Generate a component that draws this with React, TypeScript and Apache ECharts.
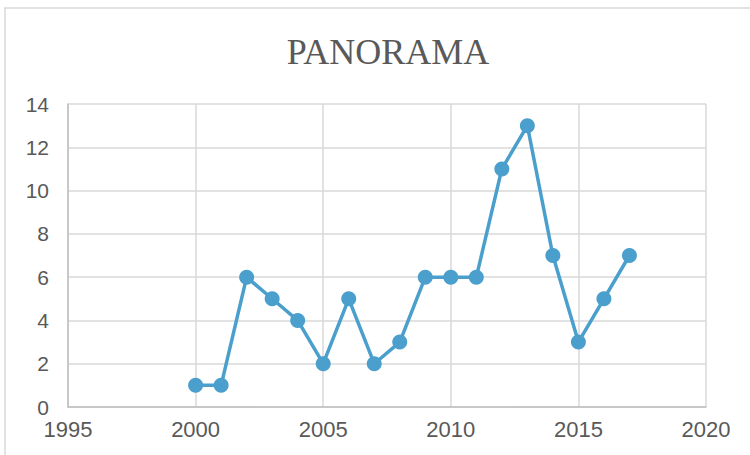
import React, { useEffect, useRef } from "react";
import * as echarts from "echarts";

const years = [2000, 2001, 2002, 2003, 2004, 2005, 2006, 2007, 2008, 2009, 2010, 2011, 2012, 2013, 2014, 2015, 2016, 2017];
const values = [1, 1, 6, 5, 4, 2, 5, 2, 3, 6, 6, 6, 11, 13, 7, 3, 5, 7];
const titleText = "PANORAMA";

export default function App() {
  const ref = useRef<HTMLDivElement>(null);
  useEffect(() => {
    if (!ref.current) return;
    const chart = echarts.init(ref.current, null, { renderer: "svg" });
    chart.setOption({
      animation: false,
      backgroundColor: "#ffffff",
      title: {
        text: titleText,
        left: 383,
        textAlign: "center",
        top: 29,
        textStyle: {
          fontFamily: "Liberation Serif",
          fontWeight: "normal",
          fontSize: 36,
          color: "#595959",
        },
      },
      graphic: [
        {
          type: "rect",
          shape: { x: 5, y: 8, width: 800, height: 500 },
          style: { fill: "none", stroke: "#d9d9d9", lineWidth: 1.5 },
          silent: true,
        },
      ],
      grid: { left: 68, right: 44, top: 104, bottom: 48 },
      xAxis: {
        type: "value",
        min: 1995,
        max: 2020,
        interval: 5,
        axisLine: { show: true, lineStyle: { color: "#bfbfbf", width: 1.5 } },
        axisTick: { show: false },
        axisLabel: {
          color: "#595959",
          fontFamily: "Liberation Sans",
          fontSize: 22,
          margin: 11,
          showMinLabel: true,
          showMaxLabel: true,
          formatter: (v: number) => String(v),
        },
        splitLine: { show: true, lineStyle: { color: "#d9d9d9", width: 1.5 } },
      },
      yAxis: {
        type: "value",
        min: 0,
        max: 14,
        interval: 2,
        axisLine: { show: true, lineStyle: { color: "#bfbfbf", width: 1.5 } },
        axisTick: { show: false },
        axisLabel: {
          color: "#595959",
          fontFamily: "Liberation Sans",
          fontSize: 21,
          margin: 19,
        },
        splitLine: { show: true, lineStyle: { color: "#d9d9d9", width: 1.5 } },
      },
      series: [
        {
          type: "line",
          data: years.map((y, i) => [y, values[i]]),
          symbol: "circle",
          symbolSize: 15,
          lineStyle: { color: "#4a9fcd", width: 3.5 },
          itemStyle: { color: "#4a9fcd" },
        },
      ],
    });
    return () => chart.dispose();
  }, []);
  return (
    <div
      ref={ref}
      style={{ position: "fixed", left: 0, top: 0, width: 750, height: 455 }}
    />
  );
}
